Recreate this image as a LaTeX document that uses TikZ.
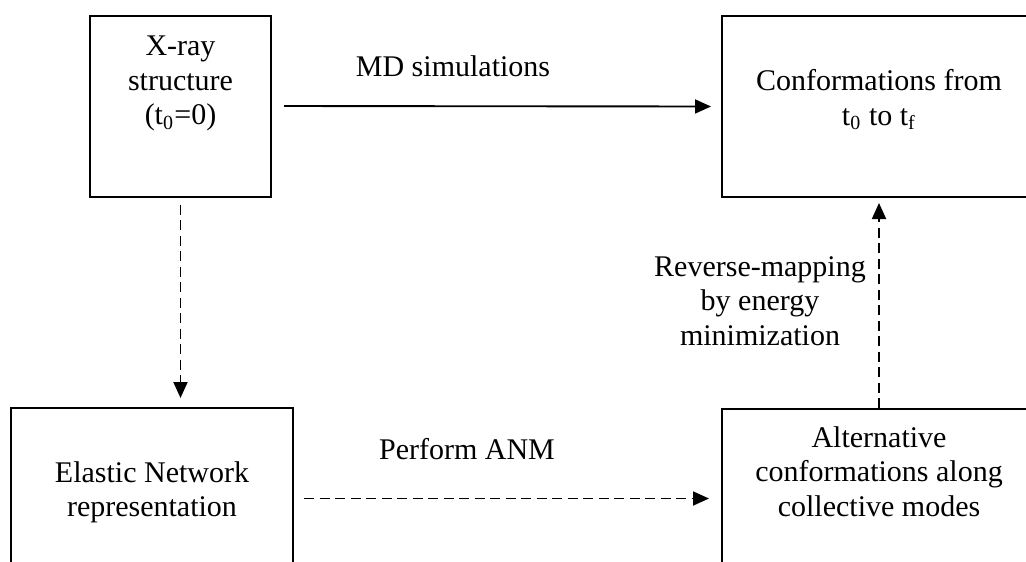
\documentclass[tikz,border=0pt]{standalone}
\usepackage{fontspec}
\setmainfont{Liberation Serif}
\usetikzlibrary{arrows.meta,positioning}

\tikzset{
  stepbox/.style={draw, line width=0.8pt, inner sep=0pt, minimum height=72.4pt},
  boxtext/.style={align=center, inner sep=0pt, font=\fontsize{12}{13.8}\selectfont},
  flow/.style={line width=0.75pt, -{Triangle[length=6.4pt,width=5.6pt]}},
  mapflow/.style={flow, dash pattern=on 4pt off 2.2pt},
}

\begin{document}
\begin{tikzpicture}[x=0.4pt,y=-0.4pt]
\clip (0,0) rectangle (1026,561);
% boxes
\node[stepbox, minimum width=72.4pt] (xray) at (180.5,106) {};
\node[stepbox, minimum width=125.6pt] (conf) at (879,106.5) {};
\node[stepbox, minimum width=112.8pt] (enm) at (152,498.5) {};
\node[stepbox, minimum width=125.6pt] (alt) at (879,499.5) {};
% box texts
\node[boxtext, below=8.4pt of xray.north] (xraytext) {X-ray\\structure\\(t\textsubscript{0}=0)};
\node[boxtext, below=21.6pt of conf.north] (conftext) {Conformations from\\t\textsubscript{0} to t\textsubscript{f}};
\node[boxtext, below=21.6pt of enm.north] (enmtext) {Elastic Network\\representation};
\node[boxtext, below=7.2pt of alt.north] (alttext) {Alternative\\conformations along\\collective modes};
% connector labels
\node[boxtext, anchor=base] (mdlabel) at (453,76) {MD simulations};
\node[boxtext, anchor=base] (anmlabel) at (467,459) {Perform ANM};
\node[boxtext, anchor=north] (revlabel) at (760,256) {Reverse-mapping\\by energy\\minimization};
% connectors
\draw[flow, shorten <=4.8pt, shorten >=4pt] (xray.east) -- (conf.west);
\draw[mapflow, shorten <=2.8pt, shorten >=3.6pt] (xray.south) -- (xray.south |- enm.north);
\draw[mapflow, shorten <=4pt, shorten >=4.8pt] (enm.east) -- (enm.east -| alt.west);
\draw[mapflow, shorten >=2pt] (alt.north) -- (conf.south);
\end{tikzpicture}
\end{document}
